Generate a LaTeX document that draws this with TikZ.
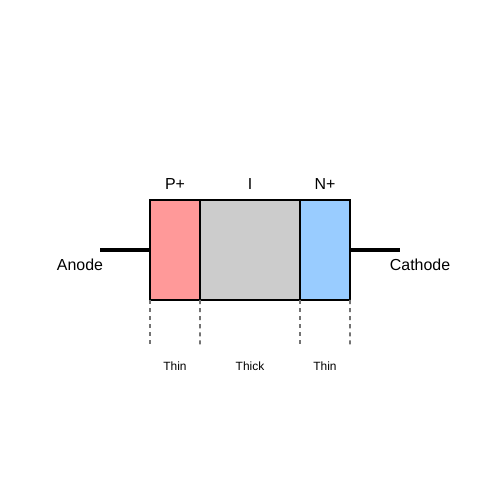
\documentclass[tikz,border=0pt]{standalone}
\usepackage{fontspec}
\setmainfont{Liberation Sans}
\usetikzlibrary{positioning}
\definecolor{pcol}{HTML}{FF9999}
\definecolor{icol}{HTML}{CCCCCC}
\definecolor{ncol}{HTML}{99CCFF}
\begin{document}
\begin{tikzpicture}[
	region/.style={draw=black, line width=1.13pt, minimum height=2cm, inner sep=0pt, outer sep=0pt},
	lead/.style={line width=2.27pt},
	guide/.style={gray!90!black, line width=1.1pt, dash pattern=on 2.3pt off 2.3pt},
	big/.style={font=\fontsize{9.07}{10}\selectfont},
	small/.style={font=\fontsize{6.8}{8}\selectfont}]
	\useasboundingbox (0,0) rectangle (10,10);

	\node[region, fill=pcol, minimum width=1cm] (p) at (3.5,5) {};
	\node[region, fill=icol, minimum width=2cm] (i) at (5,5) {};
	\node[region, fill=ncol, minimum width=1cm] (n) at (6.5,5) {};
	\draw[line width=1.13pt] (p.north west) rectangle (n.south east);

	\coordinate (al) at (2,5);
	\coordinate (cl) at (8,5);
	\draw[lead] (al) to (p.west);
	\draw[lead] (n.east) to (cl);

	\node[big] (anode) at (1.6,4.7) {Anode};
	\node[big] (cathode) at (8.4,4.7) {Cathode};

	\node[big] (pl) at (3.5,6.32) {P+};
	\node[big] (il) at (5,6.32) {I};
	\node[big] (nl) at (6.5,6.32) {N+};

	\coordinate (g1) at (3,3.1);
	\coordinate (g2) at (4,3.1);
	\coordinate (g3) at (6,3.1);
	\coordinate (g4) at (7,3.1);
	\draw[guide] (p.south west) to (g1);
	\draw[guide] (p.south east) to (g2);
	\draw[guide] (n.south west) to (g3);
	\draw[guide] (n.south east) to (g4);

	\node[small] (t1) at (3.5,2.68) {Thin};
	\node[small] (t2) at (5,2.68) {Thick};
	\node[small] (t3) at (6.5,2.68) {Thin};
\end{tikzpicture}
\end{document}
